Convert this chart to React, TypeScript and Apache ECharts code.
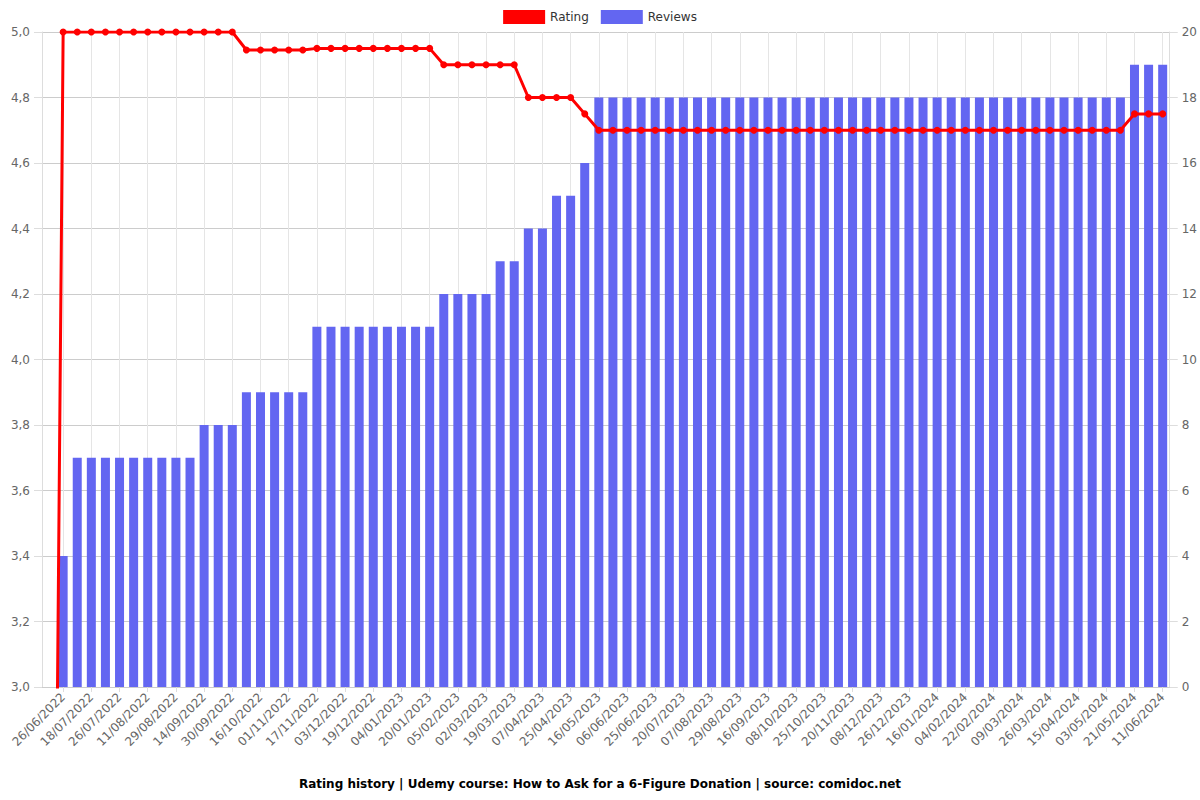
import React, { useEffect, useRef } from "react";
import * as echarts from "echarts";

const dates: string[] = [
  "",
  "26/06/2022", "11/07/2022", "18/07/2022", "21/07/2022", "26/07/2022", "02/08/2022", "11/08/2022", "20/08/2022",
  "29/08/2022", "06/09/2022", "14/09/2022", "22/09/2022", "30/09/2022", "08/10/2022", "16/10/2022", "24/10/2022",
  "01/11/2022", "09/11/2022", "17/11/2022", "25/11/2022", "03/12/2022", "11/12/2022", "19/12/2022", "27/12/2022",
  "04/01/2023", "12/01/2023", "20/01/2023", "28/01/2023", "05/02/2023", "17/02/2023", "02/03/2023", "10/03/2023",
  "19/03/2023", "28/03/2023", "07/04/2023", "16/04/2023", "25/04/2023", "05/05/2023", "16/05/2023", "27/05/2023",
  "06/06/2023", "15/06/2023", "25/06/2023", "07/07/2023", "20/07/2023", "29/07/2023", "07/08/2023", "18/08/2023",
  "29/08/2023", "07/09/2023", "16/09/2023", "27/09/2023", "08/10/2023", "16/10/2023", "25/10/2023", "06/11/2023",
  "20/11/2023", "29/11/2023", "08/12/2023", "17/12/2023", "26/12/2023", "05/01/2024", "16/01/2024", "25/01/2024",
  "04/02/2024", "13/02/2024", "22/02/2024", "01/03/2024", "09/03/2024", "17/03/2024", "26/03/2024", "05/04/2024",
  "15/04/2024", "24/04/2024", "03/05/2024", "12/05/2024", "21/05/2024", "01/06/2024", "11/06/2024",
];

const rating: number[] = [
  0,
  5, 5, 5, 5, 5, 5, 5, 5, 5, 5, 5, 5, 5,
  4.945, 4.945, 4.945, 4.945, 4.945,
  4.95, 4.95, 4.95, 4.95, 4.95, 4.95, 4.95, 4.95, 4.95,
  4.9, 4.9, 4.9, 4.9, 4.9, 4.9,
  4.8, 4.8, 4.8, 4.8,
  4.75,
  4.7, 4.7, 4.7, 4.7, 4.7, 4.7, 4.7, 4.7, 4.7, 4.7,
  4.7, 4.7, 4.7, 4.7, 4.7, 4.7, 4.7, 4.7, 4.7, 4.7,
  4.7, 4.7, 4.7, 4.7, 4.7, 4.7, 4.7, 4.7, 4.7, 4.7,
  4.7, 4.7, 4.7, 4.7, 4.7, 4.7, 4.7, 4.7,
  4.75, 4.75, 4.75,
];

const reviews: number[] = [
  0,
  4,
  7, 7, 7, 7, 7, 7, 7, 7, 7,
  8, 8, 8,
  9, 9, 9, 9, 9,
  11, 11, 11, 11, 11, 11, 11, 11, 11,
  12, 12, 12, 12,
  13, 13,
  14, 14,
  15, 15,
  16,
  18, 18, 18, 18, 18, 18, 18, 18, 18, 18,
  18, 18, 18, 18, 18, 18, 18, 18, 18, 18,
  18, 18, 18, 18, 18, 18, 18, 18, 18, 18,
  18, 18, 18, 18, 18, 18, 18, 18,
  19, 19, 19,
];

const titleText = "Rating history | Udemy course: How to Ask for a 6-Figure Donation | source: comidoc.net";
const FONT = "DejaVu Sans";

export default function App() {
  const ref = useRef<HTMLDivElement>(null);
  useEffect(() => {
    document.body.style.margin = "0";
    if (!ref.current) return;
    const chart = echarts.init(ref.current, null, { renderer: "svg" });
    const every2 = (i: number) => i % 2 === 1;
    chart.setOption({
      animation: false,
      textStyle: { fontFamily: FONT },
      title: {
        text: titleText,
        left: "center",
        top: 773,
        textStyle: { fontSize: 12, fontWeight: "bold", color: "#000", fontFamily: FONT },
      },
      legend: {
        top: 5,
        left: "center",
        itemWidth: 42,
        itemHeight: 14,
        itemGap: 12,
        textStyle: { fontSize: 12, color: "#333", fontFamily: FONT },
        data: [
          { name: "Rating", icon: "rect" },
          { name: "Reviews", icon: "rect" },
        ],
      },
      grid: { left: 42, right: 30, top: 32, bottom: 113, containLabel: false },
      xAxis: {
        type: "category",
        data: dates,
        boundaryGap: true,
        axisLine: { show: true, lineStyle: { color: "#ccc" } },
        axisTick: { show: true, alignWithLabel: true, interval: every2, length: 5, lineStyle: { color: "#ddd" } },
        axisLabel: { interval: every2, rotate: 45, color: "#666", fontSize: 12, fontFamily: FONT, margin: 8 },
        splitLine: { show: true, alignWithLabel: true, interval: every2, lineStyle: { color: "#e5e5e5" } },
      },
      yAxis: [
        {
          type: "value",
          position: "left",
          min: 3,
          max: 5,
          interval: 0.2,
          axisLine: { show: true, lineStyle: { color: "#ddd" } },
          axisTick: { show: true, length: 8, lineStyle: { color: "#ddd" } },
          axisLabel: {
            color: "#666",
            fontSize: 12,
            fontFamily: FONT,
            margin: 12,
            formatter: (v: number) => v.toFixed(1).replace(".", ","),
          },
          splitLine: { show: true, lineStyle: { color: "#ccc" } },
        },
        {
          type: "value",
          position: "right",
          min: 0,
          max: 20,
          interval: 2,
          axisLine: { show: true, lineStyle: { color: "#ddd" } },
          axisTick: { show: true, length: 8, lineStyle: { color: "#ddd" } },
          axisLabel: { color: "#666", fontSize: 12, fontFamily: FONT, margin: 12 },
          splitLine: { show: false },
        },
      ],
      series: [
        {
          name: "Rating",
          type: "line",
          yAxisIndex: 0,
          data: rating,
          z: 10,
          clip: true,
          symbol: "circle",
          symbolSize: 7,
          showAllSymbol: true,
          itemStyle: { color: "#ff0000" },
          lineStyle: { color: "#ff0000", width: 3 },
        },
        {
          name: "Reviews",
          type: "bar",
          yAxisIndex: 1,
          data: reviews,
          barWidth: 9,
          z: 2,
          itemStyle: { color: "#6366f1", borderWidth: 0 },
        },
      ],
    });
    return () => chart.dispose();
  }, []);
  return <div ref={ref} style={{ width: 1200, height: 800 }} />;
}
